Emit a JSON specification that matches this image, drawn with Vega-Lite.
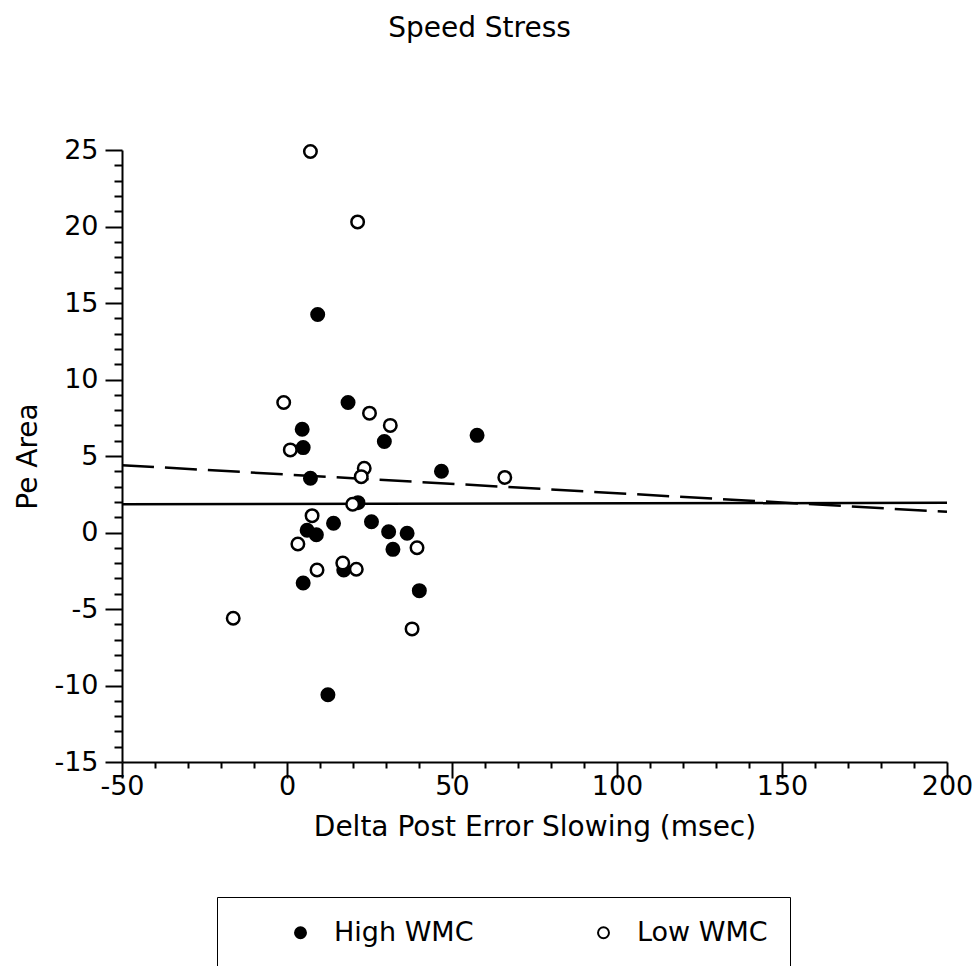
{
  "$schema": "https://vega.github.io/schema/vega-lite/v6.json",
  "width": 825,
  "height": 612,
  "autosize": {"type": "none"},
  "padding": {"left": 122, "top": 150, "right": 32, "bottom": 204},
  "background": "white",
  "title": {"text": "Speed Stress", "fontSize": 28, "font": "DejaVu Sans", "fontWeight": "normal", "color": "black", "anchor": "middle", "frame": "group", "dx": -55, "offset": 71, "baseline": "alphabetic"},
  "config": {
    "view": {"stroke": null},
    "axis": {"domainColor": "black", "domainWidth": 2, "tickColor": "black", "tickWidth": 2, "labelColor": "black", "titleColor": "black", "labelFont": "DejaVu Sans", "titleFont": "DejaVu Sans", "labelFontSize": 27, "titleFontSize": 28, "titleFontWeight": "normal", "grid": false, "labelOverlap": false, "labelFlush": false},
    "legend": {"disable": false, "strokeColor": "black", "padding": 22, "labelFontSize": 27, "labelFont": "DejaVu Sans", "labelColor": "black"}
  },
  "datasets": {
    "points": [
      {"group": "High WMC", "x": 18.5, "y": 8.5},
      {"group": "High WMC", "x": 4.6, "y": 6.75},
      {"group": "High WMC", "x": 29.5, "y": 5.95},
      {"group": "High WMC", "x": 57.6, "y": 6.35},
      {"group": "High WMC", "x": 4.9, "y": 5.55},
      {"group": "High WMC", "x": 46.8, "y": 4.0},
      {"group": "High WMC", "x": 7.1, "y": 3.55},
      {"group": "High WMC", "x": 21.5, "y": 1.95},
      {"group": "High WMC", "x": 14.1, "y": 0.6},
      {"group": "High WMC", "x": 25.6, "y": 0.7},
      {"group": "High WMC", "x": 6.1, "y": 0.15},
      {"group": "High WMC", "x": 8.9, "y": -0.15},
      {"group": "High WMC", "x": 30.8, "y": 0.05},
      {"group": "High WMC", "x": 36.4, "y": -0.05},
      {"group": "High WMC", "x": 32.1, "y": -1.1},
      {"group": "High WMC", "x": 17.2, "y": -2.45},
      {"group": "High WMC", "x": 4.9, "y": -3.3},
      {"group": "High WMC", "x": 40.1, "y": -3.8},
      {"group": "High WMC", "x": 12.4, "y": -10.6},
      {"group": "High WMC", "x": 9.3, "y": 14.25},
      {"group": "Low WMC", "x": -1.0, "y": 8.5},
      {"group": "Low WMC", "x": 25.0, "y": 7.8},
      {"group": "Low WMC", "x": 31.3, "y": 7.0},
      {"group": "Low WMC", "x": 1.0, "y": 5.4},
      {"group": "Low WMC", "x": 23.4, "y": 4.2},
      {"group": "Low WMC", "x": 22.5, "y": 3.65},
      {"group": "Low WMC", "x": 66.0, "y": 3.6},
      {"group": "Low WMC", "x": 19.9, "y": 1.85},
      {"group": "Low WMC", "x": 7.6, "y": 1.1},
      {"group": "Low WMC", "x": 3.3, "y": -0.75},
      {"group": "Low WMC", "x": 39.4, "y": -1.0},
      {"group": "Low WMC", "x": 16.9, "y": -2.0},
      {"group": "Low WMC", "x": 21.0, "y": -2.4},
      {"group": "Low WMC", "x": 9.1, "y": -2.45},
      {"group": "Low WMC", "x": -16.3, "y": -5.6},
      {"group": "Low WMC", "x": 37.9, "y": -6.3},
      {"group": "Low WMC", "x": 7.1, "y": 24.9},
      {"group": "Low WMC", "x": 21.4, "y": 20.3}
    ],
    "fits": [
      {"fit": "High WMC", "x": -50, "y": 1.85},
      {"fit": "High WMC", "x": 200, "y": 1.94},
      {"fit": "Low WMC", "x": -50, "y": 4.4},
      {"fit": "Low WMC", "x": 200, "y": 1.35}
    ]
  },
  "encoding": {
    "x": {"field": "x", "type": "quantitative", "scale": {"domain": [-50, 200], "nice": false, "zero": false},
      "axis": {"title": "Delta Post Error Slowing (msec)", "values": [-50, -40, -30, -20, -10, 0, 10, 20, 30, 40, 50, 60, 70, 80, 90, 100, 110, 120, 130, 140, 150, 160, 170, 180, 190, 200],
        "tickSize": {"condition": {"test": "datum.value % 50 === 0", "value": 16}, "value": 6},
        "labelExpr": "datum.value % 50 === 0 ? toString(datum.value) : ''", "labelPadding": -5, "titleY": 65, "titleBaseline": "middle"}},
    "y": {"field": "y", "type": "quantitative", "scale": {"domain": [-15, 25], "nice": false, "zero": false},
      "axis": {"title": "Pe Area", "values": [-15, -14, -13, -12, -11, -10, -9, -8, -7, -6, -5, -4, -3, -2, -1, 0, 1, 2, 3, 4, 5, 6, 7, 8, 9, 10, 11, 12, 13, 14, 15, 16, 17, 18, 19, 20, 21, 22, 23, 24, 25],
        "tickSize": {"condition": {"test": "datum.value % 5 === 0", "value": 17}, "value": 8},
        "labelExpr": "datum.value % 5 === 0 ? toString(datum.value) : ''", "labelPadding": 7, "titleX": -94, "titleY": 306, "titleAngle": -90, "titleAlign": "center", "titleBaseline": "middle"}}
  },
  "layer": [
    {
      "data": {"name": "fits"},
      "transform": [{"filter": "datum.fit === 'High WMC'"}],
      "mark": {"type": "line", "strokeWidth": 2.5, "color": "black"},
      "encoding": {}
    },
    {
      "data": {"name": "fits"},
      "transform": [{"filter": "datum.fit === 'Low WMC'"}],
      "mark": {"type": "line", "strokeWidth": 2.5, "color": "black", "strokeDash": [32, 11]},
      "encoding": {}
    },
    {
      "data": {"name": "points"},
      "mark": {"type": "point", "shape": "circle", "filled": true, "stroke": "black", "strokeWidth": 2.5, "size": 156, "opacity": 1},
      "encoding": {
        "color": {"field": "group", "type": "nominal", "scale": {"domain": ["High WMC", "Low WMC"], "range": ["black", "white"]},
          "legend": {"disable": false, "title": null, "orient": "none", "legendX": 95, "legendY": 747, "direction": "horizontal", "symbolOffset": 48, "labelOffset": 20, "columnPadding": 68, "symbolSize": 120, "symbolType": "circle", "symbolStrokeColor": "black", "symbolStrokeWidth": 2, "symbolOpacity": 1, "labelLimit": 400,
            "labelExpr": "datum.label === 'Low WMC' ? datum.label + '          ' : datum.label"}}
      }
    }
  ]
}
